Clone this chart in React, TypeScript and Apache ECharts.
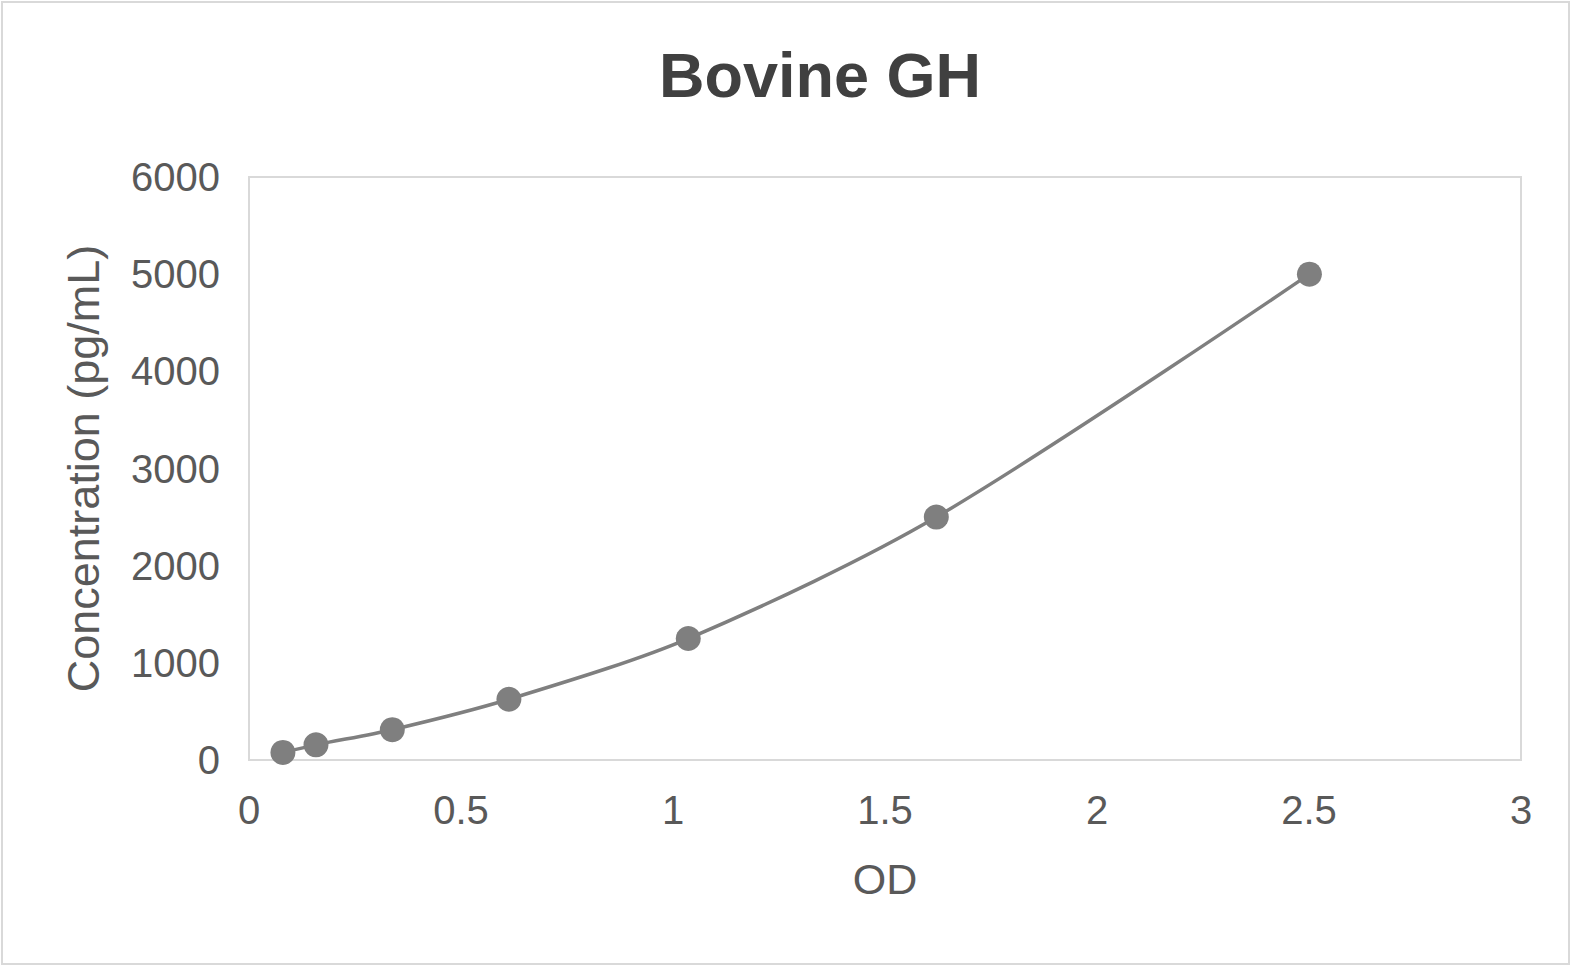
import { useEffect, useRef } from 'react';
import * as echarts from 'echarts';

// OD readings and standard concentrations (pg/mL)
const odValues = [0.08, 0.158, 0.338, 0.613, 1.036, 1.621, 2.501];
const concValues = [78, 156, 312, 625, 1250, 2500, 5000];

const xTicks = [0, 0.5, 1, 1.5, 2, 2.5, 3];
const yTicks = [0, 1000, 2000, 3000, 4000, 5000, 6000];

const FONT = '"Liberation Sans", Arial, sans-serif';

export default function App() {
  const chartRef = useRef<HTMLDivElement>(null);

  useEffect(() => {
    if (!chartRef.current) return;
    const chart = echarts.init(chartRef.current, undefined, { renderer: 'svg' });

    chart.setOption({
      animation: false,
      backgroundColor: '#fff',
      title: {
        text: 'Bovine GH',
        left: 651,
        top: 35,
        textStyle: { fontFamily: FONT, fontSize: 63, fontWeight: 'bold', color: '#404040' },
      },
      grid: {
        left: 246,
        top: 174,
        width: 1272,
        height: 583,
        show: true,
        borderColor: '#d9d9d9',
        borderWidth: 2,
      },
      xAxis: {
        type: 'value',
        min: xTicks[0],
        max: xTicks[xTicks.length - 1],
        interval: 0.5,
        name: 'OD',
        nameLocation: 'middle',
        nameGap: 97,
        nameTextStyle: { fontFamily: FONT, fontSize: 43, color: '#595959' },
        axisLine: { show: false },
        axisTick: { show: false },
        splitLine: { show: false },
        axisLabel: {
          fontFamily: FONT,
          fontSize: 40,
          color: '#595959',
          margin: 30,
          formatter: (v: number) => String(v),
        },
      },
      yAxis: {
        type: 'value',
        min: yTicks[0],
        max: yTicks[yTicks.length - 1],
        interval: 1000,
        name: 'Concentration (pg/mL)',
        nameLocation: 'middle',
        nameGap: 143,
        nameTextStyle: { fontFamily: FONT, fontSize: 45, color: '#595959' },
        axisLine: { show: false },
        axisTick: { show: false },
        splitLine: { show: false },
        axisLabel: {
          fontFamily: FONT,
          fontSize: 40,
          color: '#595959',
          margin: 29,
          formatter: (v: number) => String(v),
        },
      },
      series: [
        {
          type: 'line',
          smooth: 0.3,
          data: odValues.map((x, i) => [x, concValues[i]]),
          symbol: 'circle',
          symbolSize: 25,
          lineStyle: { color: '#7f7f7f', width: 3.5 },
          itemStyle: { color: '#7f7f7f' },
        },
      ],
    });

    return () => chart.dispose();
  }, []);

  return (
    <div
      style={{
        position: 'fixed',
        left: 0,
        top: 0,
        width: 1573,
        height: 969,
        background: '#fff',
      }}
    >
      <div
        ref={chartRef}
        style={{
          position: 'absolute',
          left: 1,
          top: 1,
          width: 1569,
          height: 964,
          border: '2px solid #d9d9d9',
          boxSizing: 'border-box',
        }}
      />
    </div>
  );
}
